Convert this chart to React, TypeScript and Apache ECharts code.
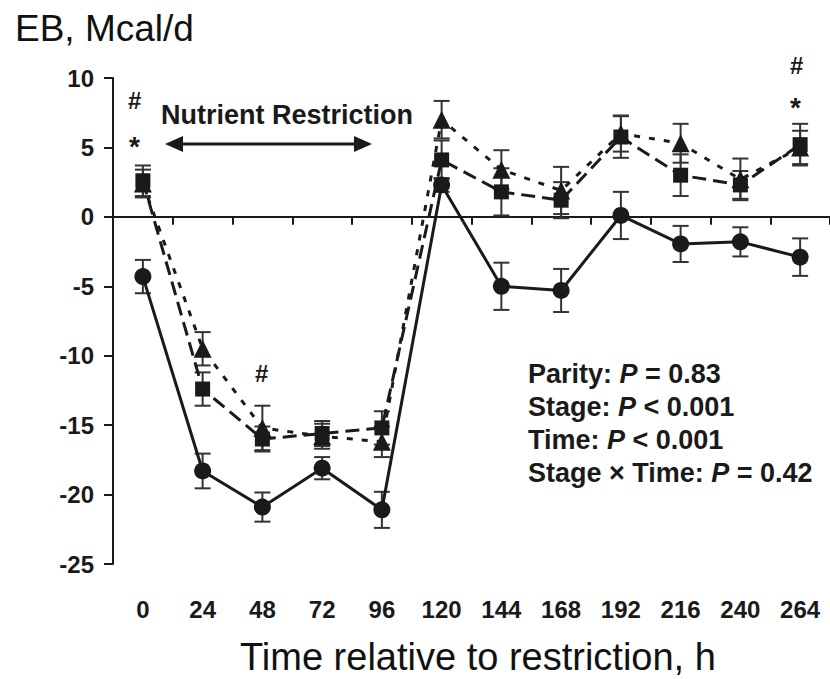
import React, { useEffect, useRef } from "react";
import * as echarts from "echarts";

const categories = ["0", "24", "48", "72", "96", "120", "144", "168", "192", "216", "240", "264"];

const circleMean = [-4.3, -18.3, -20.9, -18.1, -21.1, 2.3, -5.0, -5.3, 0.1, -1.95, -1.8, -2.9];
const circleErr = [1.2, 1.25, 1.05, 0.8, 1.3, 0.5, 1.7, 1.55, 1.7, 1.3, 1.05, 1.35];

const squareMean = [2.6, -12.4, -16.0, -15.6, -15.2, 4.1, 1.8, 1.2, 5.75, 3.0, 2.3, 5.2];
const squareErr = [1.1, 1.2, 0.9, 0.9, 1.2, 1.4, 1.7, 1.3, 1.5, 1.5, 1.0, 1.5];

const triangleMean = [2.4, -9.5, -15.2, -15.8, -16.2, 7.0, 3.4, 1.9, 6.0, 5.3, 2.7, 5.0];
const triangleErr = [1.0, 1.2, 1.6, 0.9, 1.1, 1.35, 1.4, 1.7, 1.3, 1.4, 1.5, 1.2];

const yTicks = { min: -25, max: 10, interval: 5 };

const statLines = [
  ["Parity: ", "P", " = 0.83"],
  ["Stage: ", "P", " < 0.001"],
  ["Time: ", "P", " < 0.001"],
  ["Stage \u00d7 Time: ", "P", " = 0.42"],
];

const INK = "#1a1a1a";
const NARROW = "'Liberation Sans Narrow', 'Arial Narrow', 'Liberation Sans', Arial, sans-serif";
const SANS = "'Liberation Sans', Arial, Helvetica, sans-serif";

function errSeries(mean: number[], err: number[]) {
  return {
    type: "custom",
    xAxisIndex: 0,
    yAxisIndex: 0,
    z: 1,
    silent: true,
    data: mean.map((m, i) => [i, m - err[i], m + err[i]]),
    encode: { x: 0, y: [1, 2] },
    renderItem: (params: any, api: any) => {
      const x = api.value(0);
      const lo = api.coord([x, api.value(1)]);
      const hi = api.coord([x, api.value(2)]);
      const w = 8;
      const st = { stroke: "#333", lineWidth: 2 };
      return {
        type: "group",
        children: [
          { type: "line", shape: { x1: lo[0], y1: lo[1], x2: hi[0], y2: hi[1] }, style: st },
          { type: "line", shape: { x1: hi[0] - w, y1: hi[1], x2: hi[0] + w, y2: hi[1] }, style: st },
          { type: "line", shape: { x1: lo[0] - w, y1: lo[1], x2: lo[0] + w, y2: lo[1] }, style: st },
        ],
      };
    },
  };
}

export default function App() {
  const ref = useRef<HTMLDivElement>(null);

  useEffect(() => {
    if (!ref.current) return;
    const chart = echarts.init(ref.current, null, { renderer: "svg" });

    const symFont = `bold 24px ${SANS}`;

    const statGraphics = statLines.map((l, i) => ({
      type: "text",
      left: 528,
      top: 360 + i * 33,
      style: {
        text: `{b|${l[0]}}{i|${l[1]}}{b|${l[2]}}`,
        rich: {
          b: { fontFamily: SANS, fontWeight: "bold", fontSize: 27, fill: INK },
          i: { fontFamily: SANS, fontWeight: "bold", fontStyle: "italic", fontSize: 27, fill: INK },
        },
      },
    }));

    chart.setOption({
      animation: false,
      backgroundColor: "#fff",
      grid: { left: 113, right: 0, top: 78, bottom: 115, containLabel: false },
      xAxis: [
        {
          type: "category",
          data: categories,
          boundaryGap: true,
          axisLine: { onZero: true, lineStyle: { color: INK, width: 2 } },
          axisTick: { show: true, length: 8, inside: false, lineStyle: { color: INK, width: 2 } },
          axisLabel: { show: false },
          splitLine: { show: false },
        },
        {
          type: "category",
          data: categories,
          position: "bottom",
          boundaryGap: true,
          axisLine: { show: false, onZero: false },
          axisTick: { show: false },
          axisLabel: {
            show: true,
            interval: 0,
            margin: 33,
            fontFamily: NARROW,
            fontWeight: "bold",
            fontSize: 24,
            color: INK,
          },
        },
      ],
      yAxis: {
        type: "value",
        min: yTicks.min,
        max: yTicks.max,
        interval: yTicks.interval,
        axisLine: { show: true, onZero: false, lineStyle: { color: INK, width: 2 } },
        axisTick: { show: true, length: 9, inside: false, lineStyle: { color: INK, width: 2 } },
        splitLine: { show: false },
        axisLabel: { fontFamily: NARROW, fontWeight: "bold", fontSize: 24, color: INK, margin: 19 },
      },
      series: [
        errSeries(circleMean, circleErr),
        errSeries(squareMean, squareErr),
        errSeries(triangleMean, triangleErr),
        {
          type: "line",
          data: triangleMean,
          symbol: "triangle",
          symbolSize: 18,
          itemStyle: { color: INK },
          lineStyle: { color: INK, width: 3, type: [6, 9] },
          z: 3,
        },
        {
          type: "line",
          data: squareMean,
          symbol: "rect",
          symbolSize: 15,
          itemStyle: { color: INK },
          lineStyle: { color: INK, width: 3, type: [14, 7] },
          z: 3,
        },
        {
          type: "line",
          data: circleMean,
          symbol: "circle",
          symbolSize: 17,
          itemStyle: { color: INK },
          lineStyle: { color: INK, width: 3 },
          z: 4,
        },
      ],
      graphic: [
        {
          type: "text",
          left: 15,
          top: 10,
          style: { text: "EB, Mcal/d", font: `37px ${SANS}`, fill: "#111" },
        },
        {
          type: "text",
          left: 240,
          top: 638,
          style: { text: "Time relative to restriction, h", font: `38px ${SANS}`, fill: "#111" },
        },
        {
          type: "text",
          left: 161,
          top: 101,
          style: { text: "Nutrient Restriction", font: `bold 27px ${SANS}`, fill: INK },
        },
        { type: "line", shape: { x1: 176, y1: 144, x2: 362, y2: 144 }, style: { stroke: INK, lineWidth: 3 } },
        { type: "polygon", shape: { points: [[165, 144], [183, 136], [183, 152]] }, style: { fill: INK } },
        { type: "polygon", shape: { points: [[372, 144], [354, 136], [354, 152]] }, style: { fill: INK } },
        { type: "text", left: 128, top: 88, style: { text: "#", font: symFont, fill: INK } },
        { type: "text", left: 129, top: 132, style: { text: "*", font: `bold 28px ${SANS}`, fill: INK } },
        { type: "text", left: 255, top: 361, style: { text: "#", font: symFont, fill: INK } },
        { type: "text", left: 790, top: 53, style: { text: "#", font: symFont, fill: INK } },
        { type: "text", left: 790, top: 93, style: { text: "*", font: `bold 28px ${SANS}`, fill: INK } },
        ...statGraphics,
      ],
    });

    return () => chart.dispose();
  }, []);

  return (
    <div
      ref={ref}
      style={{ position: "fixed", left: 0, top: 0, width: 830, height: 679, background: "#fff" }}
    />
  );
}
